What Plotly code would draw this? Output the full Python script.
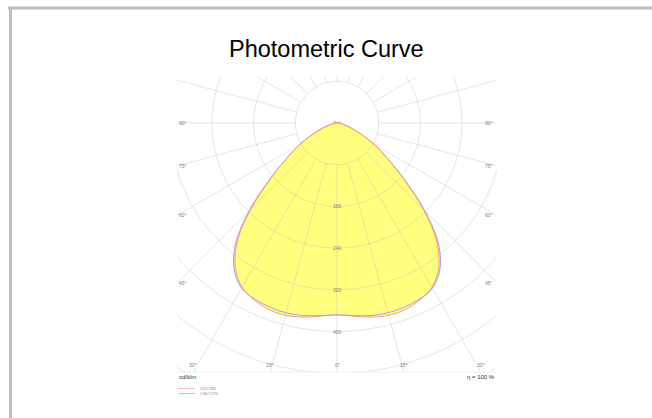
import numpy as np
import plotly.graph_objects as go

# Luminous intensity distribution, cd/klm, per gamma angle (0 = straight down)
gamma_deg = [0, 5, 10, 15, 20, 25, 30, 35, 40, 45, 50, 55, 60, 65, 70, 75, 80, 85, 90,
             95, 100, 105, 110, 115, 120, 125, 130, 135, 140, 145, 150, 155, 160, 165, 170, 175, 180]
c0_c180 = [368, 372, 378, 382, 381, 375, 364, 340, 298, 234, 166, 117, 82, 52, 30, 16, 8, 3, 0,
           3, 5, 7, 7, 6, 4, 2, 0, 0, 0, 0, 0, 0, 0, 0, 0, 0, 0]
c90_c270 = [368, 371, 375, 377, 376, 373, 366, 344, 303, 239, 169, 118, 83, 52, 30, 16, 8, 3, 0,
            0, 0, 0, 0, 0, 0, 0, 0, 0, 0, 0, 0, 0, 0, 0, 0, 0, 0]

ring_values = [80, 160, 240, 320, 400, 480, 560, 640]
ring_labels = [160, 240, 320, 400]
side_angles = [90, 75, 60, 45]
bottom_angles = [30, 15, 0]
efficiency = 100

W, H = 652, 418
# Diagram frame in pixels and pole position
box_l, box_r, box_t, box_b = 177, 497, 77, 372
pole_x, pole_y = 337, 123
px_per_cd = 0.5213

x_rng = [(box_l - pole_x) / px_per_cd, (box_r - pole_x) / px_per_cd]
y_rng = [(pole_y - box_b) / px_per_cd, (pole_y - box_t) / px_per_cd]


def curve_xy(values):
    g = np.radians(gamma_deg)
    v = np.asarray(values, dtype=float)
    # right half (C0 / C90) then mirrored left half (C180 / C270)
    xr, yr = v * np.sin(g), -v * np.cos(g)
    x = np.concatenate([xr, -xr[::-1][1:]])
    y = np.concatenate([yr, yr[::-1][1:]])
    return x, y


fig = go.Figure()

# Filled envelope of both planes
env = np.maximum(c0_c180, c90_c270)
ex, ey = curve_xy(env)
fig.add_trace(go.Scatter(x=ex, y=ey, mode="lines", fill="toself",
                         fillcolor="rgb(255,255,125)",
                         line=dict(width=0, shape="spline", smoothing=1.0),
                         hoverinfo="skip", showlegend=False))

grid_col = "rgba(190,190,190,0.5)"
# Concentric rings
t = np.linspace(0, 2 * np.pi, 361)
for r in ring_values:
    fig.add_trace(go.Scatter(x=r * np.cos(t), y=r * np.sin(t), mode="lines",
                             line=dict(color=grid_col, width=0.8),
                             hoverinfo="skip", showlegend=False))
# Radial spokes every 15 degrees, starting at the first ring
for a in range(0, 360, 15):
    ar = np.radians(a)
    fig.add_trace(go.Scatter(x=[ring_values[0] * np.sin(ar), 900 * np.sin(ar)],
                             y=[-ring_values[0] * np.cos(ar), -900 * np.cos(ar)],
                             mode="lines", line=dict(color=grid_col, width=0.8),
                             hoverinfo="skip", showlegend=False))

# Plane curves
bx, by = curve_xy(c90_c270)
fig.add_trace(go.Scatter(x=bx, y=by, mode="lines",
                         line=dict(color="rgb(160,160,255)", width=1, shape="spline", smoothing=1.0),
                         hoverinfo="skip", showlegend=False))
rx, ry = curve_xy(c0_c180)
fig.add_trace(go.Scatter(x=rx, y=ry, mode="lines",
                         line=dict(color="rgb(255,150,140)", width=1, shape="spline", smoothing=1.0),
                         hoverinfo="skip", showlegend=False))

ann = []
lab_font = dict(family="Liberation Sans, Arial", size=5, color="#808080")

# Ring value labels along the downward axis
for r in ring_labels:
    ann.append(dict(x=0, y=-r, xref="x", yref="y", text=str(r), showarrow=False,
                    font=lab_font, xanchor="center", yanchor="middle"))

# Angle labels where the spokes leave the frame
for a in side_angles:
    ar = np.radians(a)
    yv = -x_rng[1] / np.tan(ar) if a != 90 else 0.0
    ann.append(dict(x=x_rng[0], y=yv, xref="x", yref="y", text=f"{a}°", showarrow=False,
                    font=lab_font, xanchor="left", yanchor="middle", xshift=0))
    ann.append(dict(x=x_rng[1], y=yv, xref="x", yref="y", text=f"{a}°", showarrow=False,
                    font=lab_font, xanchor="right", yanchor="middle", xshift=-2))
for a in bottom_angles:
    ar = np.radians(a)
    xv = -y_rng[0] * np.tan(ar)
    for sgn in ([-1, 1] if a else [1]):
        ann.append(dict(x=sgn * xv, y=y_rng[0], xref="x", yref="y", text=f"{a}°",
                        showarrow=False, font=lab_font, xanchor="center",
                        yanchor="bottom", yshift=2))

# Unit, efficiency and plane legend under the frame
small = dict(family="Liberation Sans, Arial", size=6, color="#333333")
ann.append(dict(x=box_l / W, y=1 - 377 / H, xref="paper", yref="paper", text="cd/klm",
                showarrow=False, font=small, xanchor="left", yanchor="middle"))
ann.append(dict(x=box_r / W, y=1 - 377 / H, xref="paper", yref="paper",
                text=f"η = {efficiency} %", showarrow=False, font=small,
                xanchor="right", yanchor="middle"))
leg_font = dict(family="Liberation Sans, Arial", size=4, color="#888888")
ann.append(dict(x=198 / W, y=1 - 388.5 / H, xref="paper", yref="paper", text="C0/C180",
                showarrow=False, font=leg_font, xanchor="left", yanchor="middle"))
ann.append(dict(x=198 / W, y=1 - 393.5 / H, xref="paper", yref="paper", text="C90/C270",
                showarrow=False, font=leg_font, xanchor="left", yanchor="middle"))

# Title
ann.append(dict(x=326 / W, y=1 - 49 / H, xref="paper", yref="paper", text="Photometric Curve",
                showarrow=False, xanchor="center", yanchor="middle",
                font=dict(family="Liberation Sans, Arial", size=23.5, color="#000000")))

shapes = [
    # page frame
    dict(type="line", xref="paper", yref="paper", x0=8 / W, x1=1, y0=1 - 8 / H, y1=1 - 8 / H,
         line=dict(color="#bdbdbd", width=3)),
    dict(type="line", xref="paper", yref="paper", x0=10.5 / W, x1=10.5 / W, y0=1 - 7 / H, y1=0,
         line=dict(color="#bdbdbd", width=3)),
    # legend swatches
    dict(type="line", xref="paper", yref="paper", x0=178 / W, x1=195 / W,
         y0=1 - 388.5 / H, y1=1 - 388.5 / H, line=dict(color="rgb(255,190,190)", width=1)),
    dict(type="line", xref="paper", yref="paper", x0=178 / W, x1=195 / W,
         y0=1 - 393.5 / H, y1=1 - 393.5 / H, line=dict(color="rgb(190,190,255)", width=1)),
    # bottom edge of the diagram frame
    dict(type="line", xref="paper", yref="paper", x0=box_l / W, x1=box_r / W,
         y0=1 - box_b / H, y1=1 - box_b / H, line=dict(color="#eeeeee", width=1)),
]

fig.update_layout(
    width=W, height=H, margin=dict(l=0, r=0, t=0, b=0),
    paper_bgcolor="white", plot_bgcolor="white",
    xaxis=dict(range=x_rng, domain=[box_l / W, box_r / W], visible=False, fixedrange=True),
    yaxis=dict(range=y_rng, domain=[1 - box_b / H, 1 - box_t / H], visible=False, fixedrange=True),
    annotations=ann, shapes=shapes, showlegend=False,
)

fig.write_html("out.html")
